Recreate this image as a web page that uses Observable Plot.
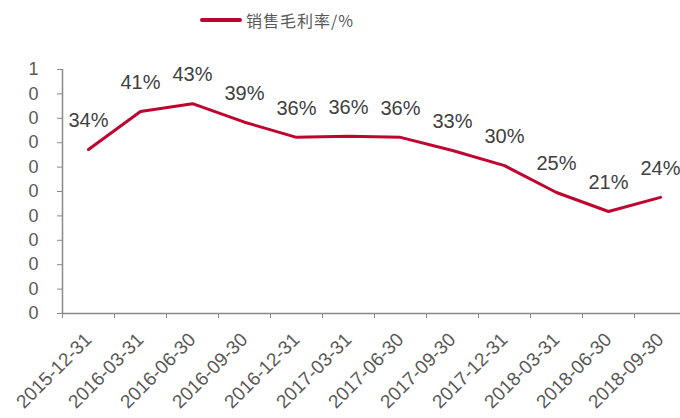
<!DOCTYPE html>
<html><head><meta charset="utf-8">
<script src="https://cdn.jsdelivr.net/npm/d3@7"></script>
<script src="https://cdn.jsdelivr.net/npm/@observablehq/plot@0.6"></script>
<style>
body{margin:0;background:#fff;font-family:Arial,"Liberation Sans",sans-serif;}
#wrap{width:680px;height:418px;position:relative;overflow:hidden;}
#legend{height:40px;position:relative;}
#legend .sw{position:absolute;left:200px;top:18px;width:42px;height:4px;background:#C0042F;border-radius:2px;}
#legend .tx{position:absolute;left:246px;top:8px;font-size:16px;letter-spacing:1px;line-height:24px;color:#595959;font-family:"Noto Sans CJK SC",sans-serif;}
svg{overflow:hidden;}
</style></head>
<body><div id="wrap"><div id="legend"><div class="sw"></div><div class="tx">销售毛利率/%</div></div><div id="chart"></div></div>
<script>
const dates = ["2015-12-31","2016-03-31","2016-06-30","2016-09-30","2016-12-31","2017-03-31","2017-06-30","2017-09-30","2017-12-31","2018-03-31","2018-06-30","2018-09-30"];
const margin = [0.336,0.414,0.430,0.392,0.361,0.363,0.361,0.334,0.303,0.248,0.209,0.238];
const yTicks = [0,0.05,0.1,0.15,0.2,0.25,0.3,0.35,0.4,0.45,0.5];
const seriesName = "销售毛利率/%";

const data = dates.map((d,i)=>({i, date:d, v:margin[i]}));
const idx = dates.map((d,i)=>i);
const bounds = dates.map((d,i)=>i-0.5).concat([dates.length-0.5]);

const axisColor = "#898989";
const chart = Plot.plot({
  width: 680,
  height: 378,
  marginLeft: 62,
  marginRight: -6,
  marginTop: 29,
  marginBottom: 105,
  style: {fontFamily: "Arial, 'Liberation Sans', sans-serif", background: "#fff", overflow: "hidden"},
  x: {type: "linear", domain: [-0.5, dates.length-0.5]},
  y: {domain: [0, 0.5]},
  marks: [
    Plot.ruleY([0], {stroke: axisColor, strokeWidth: 1.5}),
    Plot.ruleX([-0.5], {stroke: axisColor, strokeWidth: 1.5}),
    Plot.axisY({ticks: yTicks, tickFormat: d => String(Math.round(d)), tickSize: 5, tickPadding: 19, stroke: axisColor, color: "#595959", fontSize: 18, label: null}),
    Plot.axisX({ticks: bounds, tickFormat: () => "", tickSize: 5, stroke: axisColor, label: null}),
    Plot.axisX({ticks: idx, tickFormat: i => dates[i], tickSize: 0, tickPadding: 23, tickRotate: -45, color: "#595959", fontSize: 19, label: null}),
    Plot.line(data, {x: "i", y: "v", stroke: "#C0042F", strokeWidth: 3}),
    Plot.text(data, {x: "i", y: "v", text: d => Math.round(d.v*100) + "%", dy: -29, fontSize: 20, fill: "#404040"})
  ]
});
document.getElementById("chart").appendChild(chart);
</script></body></html>
